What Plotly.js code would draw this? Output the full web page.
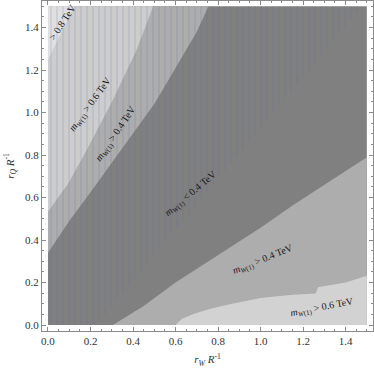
<!DOCTYPE html>
<html>
<head>
<meta charset="utf-8">
<script src="https://cdn.plot.ly/plotly-3.0.1.min.js"></script>
<style>
  html, body { margin: 0; padding: 0; background: #fff; }
  #grafico { width: 374px; height: 370px; }
</style>
</head>
<body>
<div id="grafico"></div>
<script>
// --- Datos (fronteras de las regiones) ---
const rangoX = [0, 1.5];
const rangoY = [0, 1.5];

// frontera m = 0.4 TeV, lado superior izquierdo
const sup04X = [0, 0.1, 0.2, 0.3, 0.4, 0.5, 0.6, 0.7, 0.755];
const sup04Y = [0.34, 0.49, 0.625, 0.765, 0.9, 1.04, 1.21, 1.38, 1.5];

// frontera m = 0.6 TeV, lado superior izquierdo
const sup06X = [0, 0.096, 0.182, 0.306, 0.417, 0.495];
const sup06Y = [0.533, 0.667, 0.824, 1.06, 1.295, 1.5];

// frontera m = 0.8 TeV
const sup08X = [0, 0.06, 0.125];
const sup08Y = [1.25, 1.37, 1.5];

// frontera m = 0.4 TeV, lado inferior derecho
const inf04X = [0.305, 0.45, 0.6, 0.84, 1.0, 1.154, 1.3, 1.5];
const inf04Y = [0, 0.09, 0.2, 0.353, 0.458, 0.565, 0.66, 0.79];

// frontera m = 0.6 TeV, lado inferior derecho
const inf06X = [0.6, 0.63, 0.684, 0.76, 0.85, 1.0, 1.15, 1.26, 1.27, 1.4, 1.5];
const inf06Y = [0, 0.03, 0.052, 0.075, 0.097, 0.127, 0.142, 0.148, 0.178, 0.2, 0.232];

// zona con el rayado vertical
const rayadoX = [0, 0.225, 1.48, 0];
const rayadoY = [0, 0, 1.5, 1.5];

// etiquetas de los contornos
const etiquetas = [
    {texto: "&gt; 0.8 TeV", x: 0.066, y: 1.425, angulo: -57},
    {texto: "<i>m</i><sub><i>W</i>(1)</sub> &gt; 0.6 TeV", x: 0.2, y: 1.04, angulo: -54},
    {texto: "<i>m</i><sub><i>W</i>(1)</sub> &gt; 0.4 TeV", x: 0.322, y: 0.9, angulo: -56},
    {texto: "<i>m</i><sub><i>W</i>(1)</sub> &lt; 0.4 TeV", x: 0.675, y: 0.617, angulo: -40},
    {texto: "<i>m</i><sub><i>W</i>(1)</sub> &gt; 0.4 TeV", x: 1.015, y: 0.306, angulo: -22},
    {texto: "<i>m</i><sub><i>W</i>(1)</sub> &gt; 0.6 TeV", x: 1.292, y: 0.082, angulo: -11}
];

// --- Utilidades ---
function region(xs, ys, color) {
    return {
        x: xs, y: ys, mode: 'lines', fill: 'toself',
        fillcolor: color, line: {width: 0, color: color},
        hoverinfo: 'skip', showlegend: false
    };
}

// polígono superior: frontera + esquina (0, 1.5)
const arriba = (xs, ys, color) => region(xs.concat([rangoX[0]]), ys.concat([rangoY[1]]), color);
// polígono inferior: frontera + esquina (1.5, 0)
const abajo = (xs, ys, color) => region(xs.concat([rangoX[1]]), ys.concat([rangoY[0]]), color);

const data = [
    region([rangoX[0], rangoX[1], rangoX[1], rangoX[0]], [rangoY[0], rangoY[0], rangoY[1], rangoY[1]], '#808080'),
    arriba(sup04X, sup04Y, '#adadad'),
    arriba(sup06X, sup06Y, '#cdcdcd'),
    arriba(sup08X, sup08Y, '#e0e0e0'),
    abajo(inf04X, inf04Y, '#adadad'),
    abajo(inf06X, inf06Y, '#d2d2d2'),
    {
        x: rayadoX, y: rayadoY, mode: 'lines', fill: 'toself',
        fillcolor: 'rgba(0,0,0,0)', line: {width: 0},
        fillpattern: {shape: '|', fgcolor: 'rgba(100,100,170,0.18)', bgcolor: 'rgba(0,0,0,0)', size: 6, solidity: 0.25},
        hoverinfo: 'skip', showlegend: false
    }
];

const fuenteSerif = '"Liberation Serif", "DejaVu Serif", serif';

const ejeComun = {
    showgrid: false, zeroline: false,
    showline: true, linecolor: '#8a8a8a', linewidth: 1, mirror: 'allticks',
    ticks: 'inside', ticklen: 4, tickcolor: '#8a8a8a', tickwidth: 1,
    tick0: 0, dtick: 0.2, tickformat: '.1f',
    minor: {ticks: 'inside', ticklen: 2, tickcolor: '#8a8a8a', dtick: 0.05, tick0: 0, showgrid: false},
    tickfont: {family: fuenteSerif, size: 11, color: '#333'},
    automargin: false, fixedrange: true
};

const layout = {
    width: 374, height: 370,
    margin: {l: 42, r: 1, t: 1, b: 39},
    paper_bgcolor: '#fff', plot_bgcolor: '#fff',
    showlegend: false, hovermode: false,
    font: {family: fuenteSerif},
    xaxis: Object.assign({}, ejeComun, {
        range: [-0.0282, 1.529],
        title: {text: '<i>r<sub>W</sub></i> <i>R</i><sup>-1</sup>', standoff: 9,
                font: {family: fuenteSerif, size: 11, color: '#333'}}
    }),
    yaxis: Object.assign({}, ejeComun, {
        range: [-0.0282, 1.525],
        title: {text: '<i>r<sub>Q</sub></i> <i>R</i><sup>-1</sup>', standoff: 8,
                font: {family: fuenteSerif, size: 11, color: '#333'}}
    }),
    annotations: etiquetas.map(e => ({
        text: e.texto, x: e.x, y: e.y, xref: 'x', yref: 'y',
        showarrow: false, textangle: e.angulo,
        font: {family: fuenteSerif, size: 10, color: '#1a1a1a'}
    }))
};

Plotly.newPlot('grafico', data, layout, {staticPlot: true, displayModeBar: false});
</script>
</body>
</html>
